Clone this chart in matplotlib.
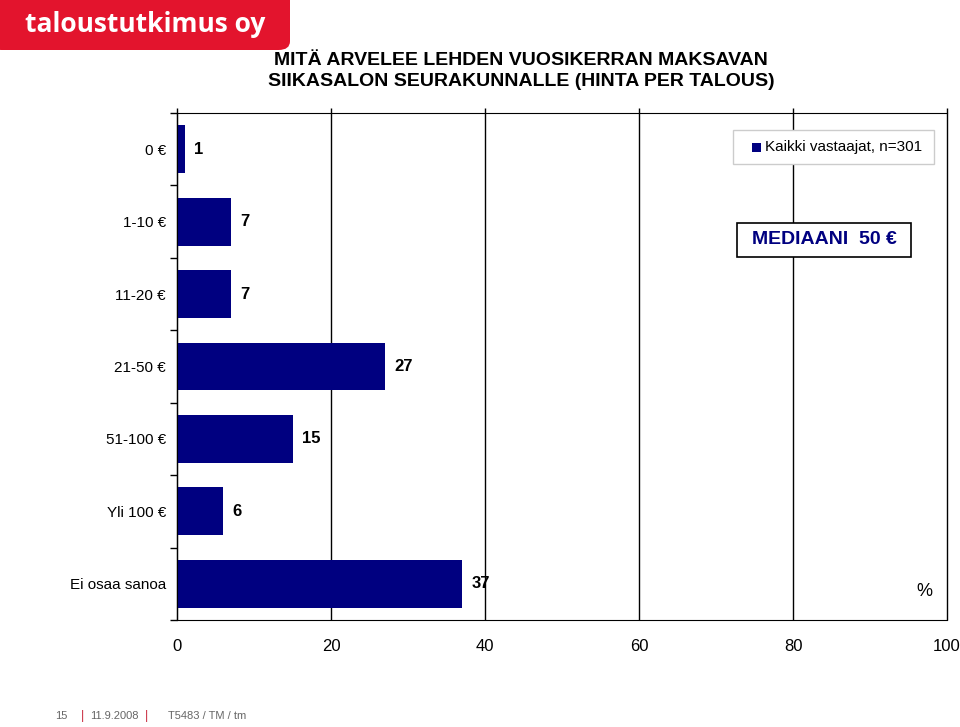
import matplotlib
matplotlib.use("Agg")
import matplotlib.pyplot as plt
from matplotlib.patches import FancyBboxPatch, Rectangle

categories = ["0 €", "1-10 €", "11-20 €", "21-50 €", "51-100 €", "Yli 100 €", "Ei osaa sanoa"]
values = [1, 7, 7, 27, 15, 6, 37]
xticks = [0, 20, 40, 60, 80, 100]
legend_label = "Kaikki vastaajat, n=301"
title = "MITÄ ARVELEE LEHDEN VUOSIKERRAN MAKSAVAN\nSIIKASALON SEURAKUNNALLE (HINTA PER TALOUS)"

W, H = 960, 727
fig = plt.figure(figsize=(W / 100, H / 100), dpi=100)
plt.rcParams['font.family'] = ['Liberation Sans', 'DejaVu Sans']

navy = "#000080"
ax = fig.add_axes([177 / W, 1 - 620 / H, (947 - 177) / W, (620 - 113) / H])
y = list(range(len(categories)))
ax.barh(y, values, height=0.66, color=navy, zorder=3)
n = len(categories)
ax.set_ylim(n - 0.5, -0.5)
ax.set_xlim(0, 100)
for yi, v in zip(y, values):
    ax.text(v + 1.2, yi, str(v), va="center", ha="left", fontsize=12, fontweight="bold", zorder=4)

ax.set_xticks(xticks)
ax.set_xticklabels([str(t) for t in xticks], fontsize=12)
ax.tick_params(axis="x", length=0, pad=14)
ax.set_yticks(y)
ax.set_yticklabels(categories, fontsize=11)
ax.tick_params(axis="y", length=0, pad=8)
ax.set_yticks([i + 0.5 for i in range(-1, n)], minor=True)
ax.tick_params(axis="y", which="minor", length=5, direction="out", width=1)
# vertical gridlines, poking slightly above the plot frame
ax.vlines(xticks, n - 0.5, -0.57, color="black", lw=1, zorder=1, clip_on=False)
ax.spines["right"].set_visible(False)
ax.spines["left"].set_zorder(5)
ax.text(97, 6.1, "%", fontsize=13, ha="center", va="center")

# legend box
fig.patches.append(Rectangle((733 / W, 1 - 164 / H), 201 / W, 34 / H, transform=fig.transFigure,
                             facecolor="white", edgecolor="#cccccc", lw=1, zorder=5))
fig.patches.append(Rectangle((752 / W, 1 - 152 / H), 9 / W, 9 / H, transform=fig.transFigure,
                             facecolor=navy, edgecolor="none", zorder=6))
fig.text(765 / W, 1 - 147 / H, legend_label, fontsize=11, va="center", ha="left", zorder=7)

# median box
fig.patches.append(Rectangle((737 / W, 1 - 257 / H), 174 / W, 34 / H, transform=fig.transFigure,
                             facecolor="white", edgecolor="black", lw=1.2, zorder=5))
fig.text(824 / W, 1 - 239 / H, "MEDIAANI  50 €", fontsize=14, fontweight="bold", color=navy,
         ha="center", va="center", zorder=6)

# title
fig.text(521 / W, 1 - 71 / H, title, fontsize=14, fontweight="bold", ha="center", va="center",
         linespacing=1.35)

# logo
fig.patches.append(FancyBboxPatch((-10 / W, 1 - 50 / H), 300 / W, 60 / H, transform=fig.transFigure,
                                  boxstyle="round,pad=0,rounding_size=0.012", facecolor="#e3142d",
                                  edgecolor="none"))
fig.text(145 / W, 1 - 24 / H, "taloustutkimus oy", fontsize=19, color="white", fontweight="bold",
         ha="center", va="center", family=["Open Sans", "DejaVu Sans"])

# footer
grey = "#666666"
red = "#c8283c"
fy = 1 - 716 / H
fig.text(61 / W, fy, "15", fontsize=8, color=grey, ha="center", va="center")
fig.text(82 / W, fy, "|", fontsize=9, color=red, ha="center", va="center")
fig.text(90 / W, fy, "11.9.2008", fontsize=8, color=grey, ha="left", va="center")
fig.text(147 / W, fy, "|", fontsize=9, color=red, ha="center", va="center")
fig.text(168 / W, fy, "T5483 / TM / tm", fontsize=8, color=grey, ha="left", va="center")

fig.savefig("out.png", dpi=100)
